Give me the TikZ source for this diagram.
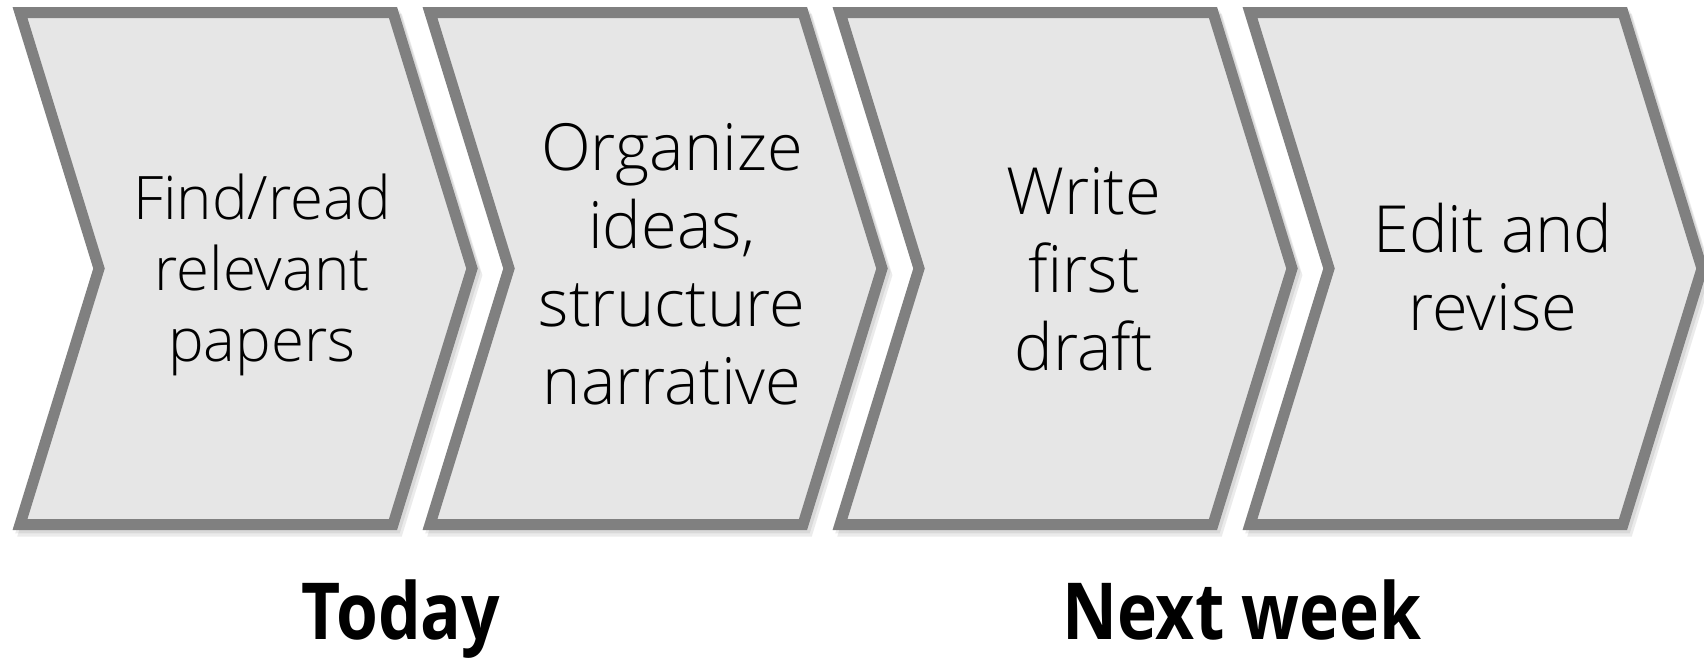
\documentclass[tikz,border=0pt]{standalone}
\usepackage{fontspec}
\setmainfont{Open Sans}[UprightFont=* Light, BoldFont=* Bold]
\newfontfamily\labelfont{Open Sans}[UprightFont=* Bold, FakeStretch=0.86]
\usepackage{xcolor}
\usetikzlibrary{shadows}

\definecolor{chevfill}{RGB}{230,230,230}
\definecolor{chevline}{RGB}{128,128,128}

\tikzset{
  chevron/.style={draw=chevline, fill=chevfill, line width=8.25pt,
    preaction={draw=black, opacity=0.08, line width=8.25pt, transform canvas={shift={(2pt,-2.5pt)}}},
    preaction={draw=black, opacity=0.08, line width=8.25pt, transform canvas={shift={(3.5pt,-5pt)}}}},
  steptext/.style={align=center, anchor=base, inner sep=0pt, font=\fontsize{48.75}{58.5}\selectfont},
  timelabel/.style={anchor=base, inner sep=0pt, font=\labelfont\fontsize{59}{72}\selectfont}
}

\begin{document}
\begin{tikzpicture}[x=0.75pt,y=0.75pt,yscale=-1,xscale=1]
\useasboundingbox (0,0) rectangle (1704,658);
%Chevrons
\foreach \i in {0,...,3} {
  \draw[chevron] ({20+410*\i},12.5) -- ++(373,0) -- ++(79,256) -- ++(-79,256) -- ++(-373,0) -- ++(79,-256) -- cycle;
}
% Text Node (anchored on last baseline)
\node (find) at (262,361) [steptext, font=\fontsize{45}{53.25}\selectfont] {Find/read\\relevant\\papers};
% Text Node
\node (organize) at (672,404) [steptext] {Organize\\ideas,\\structure\\narrative};
% Text Node
\node (write) at (1084,370) [steptext] {Write\\first\\draft};
% Text Node
\node (edit) at (1493,330) [steptext] {Edit and\\revise};
% Text Node
\node (today) at (401,639) [timelabel] {Today};
% Text Node
\node (nextweek) at (1242,639) [timelabel] {Next week};
\end{tikzpicture}
\end{document}
